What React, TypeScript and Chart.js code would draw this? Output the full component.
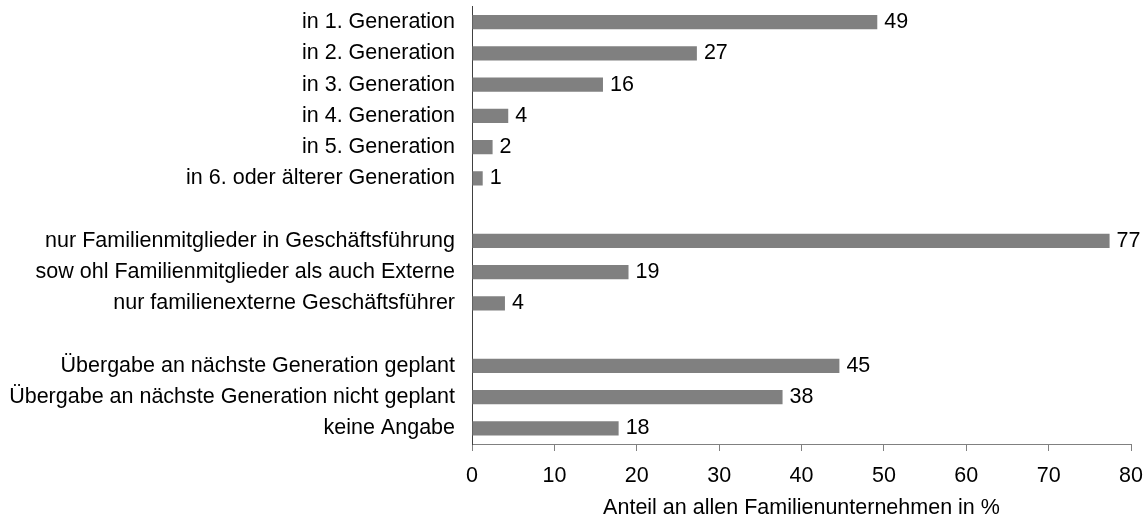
import React, { useEffect, useRef } from "react";
import { Chart, registerables } from "chart.js";

Chart.register(...registerables);

const categories: string[] = [
  "in 1. Generation",
  "in 2. Generation",
  "in 3. Generation",
  "in 4. Generation",
  "in 5. Generation",
  "in 6. oder älterer Generation",
  "",
  "nur Familienmitglieder in Geschäftsführung",
  "sow ohl Familienmitglieder als auch Externe",
  "nur familienexterne Geschäftsführer",
  "",
  "Übergabe an nächste Generation geplant",
  "Übergabe an nächste Generation nicht geplant",
  "keine Angabe",
];

const shares: (number | null)[] = [
  49.2, 27.3, 15.9, 4.4, 2.5, 1.3, null, 77.4, 19.0, 4.0, null, 44.6, 37.7, 17.8,
];

const shownLabels: string[] = [
  "49", "27", "16", "4", "2", "1", "", "77", "19", "4", "", "45", "38", "18",
];

const xTicks: number[] = [0, 10, 20, 30, 40, 50, 60, 70, 80];
const axisTitle = "Anteil an allen Familienunternehmen in %";

const FONT = "'Liberation Sans', Arial, sans-serif";
const FSIZE = 21.5;

const valueLabelPlugin = {
  id: "valueLabels",
  afterDatasetsDraw(chart: any) {
    const ctx = chart.ctx;
    const meta = chart.getDatasetMeta(0);
    ctx.save();
    ctx.font = `${FSIZE}px ${FONT}`;
    ctx.fillStyle = "#000";
    ctx.textAlign = "left";
    ctx.textBaseline = "middle";
    meta.data.forEach((bar: any, i: number) => {
      if (shares[i] == null) return;
      ctx.fillText(shownLabels[i], bar.x + 7, bar.y);
    });
    ctx.restore();
  },
};

export default function App() {
  const ref = useRef<HTMLCanvasElement>(null);

  useEffect(() => {
    if (!ref.current) return;
    const chart = new Chart(ref.current, {
      type: "bar",
      data: {
        labels: categories,
        datasets: [
          {
            data: shares as any,
            backgroundColor: "#808080",
            borderWidth: 0,
            categoryPercentage: 1,
            barPercentage: 0.46,
          },
        ],
      },
      options: {
        indexAxis: "y",
        responsive: false,
        animation: false,
        events: [],
        layout: { padding: { top: 6.5, right: 17, bottom: 0, left: 0 } },
        plugins: {
          legend: { display: false },
          tooltip: { enabled: false },
          title: { display: false },
        },
        scales: {
          x: {
            type: "linear",
            min: 0,
            max: 80,
            afterBuildTicks: (axis: any) => {
              axis.ticks = xTicks.map((v) => ({ value: v }));
            },
            afterFit: (axis: any) => {
              axis.height = 77;
              axis.paddingLeft = 0;
              axis.paddingRight = 0;
            },
            grid: {
              display: true,
              drawOnChartArea: false,
              drawTicks: true,
              tickLength: 7,
              color: "#808080",
            },
            border: { display: true, color: "#808080", width: 1 },
            ticks: {
              color: "#000",
              font: { family: FONT, size: FSIZE },
              padding: 12,
              maxRotation: 0,
            },
            title: {
              display: true,
              text: axisTitle,
              color: "#000",
              font: { family: FONT, size: FSIZE },
              padding: { top: 4, bottom: 0 },
            },
          },
          y: {
            type: "category",
            afterFit: (axis: any) => {
              axis.width = 472;
              axis.paddingTop = 0;
              axis.paddingBottom = 0;
            },
            grid: { display: false, drawTicks: false },
            border: { display: true, color: "#404040", width: 1 },
            ticks: {
              color: "#000",
              font: { family: FONT, size: FSIZE },
              padding: 17,
              autoSkip: false,
            },
          },
        },
      },
      plugins: [valueLabelPlugin],
    });
    return () => chart.destroy();
  }, []);

  return (
    <div style={{ position: "fixed", left: 0, top: 0, width: 1148, height: 521, background: "#fff" }}>
      <canvas ref={ref} width={1148} height={521} />
    </div>
  );
}
